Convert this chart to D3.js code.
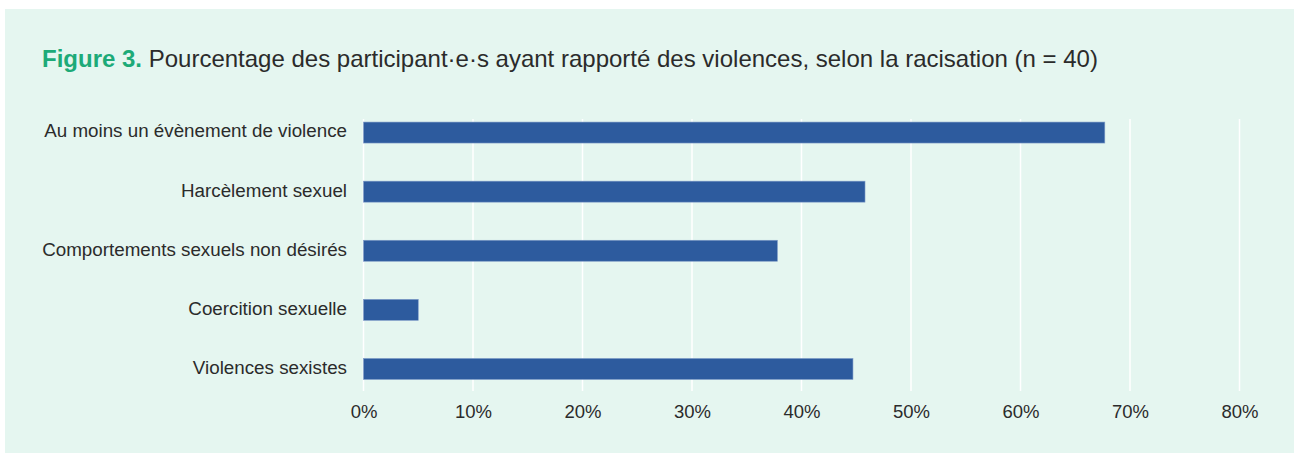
<!DOCTYPE html>
<html>
<head>
<meta charset="utf-8">
<script src="https://cdn.jsdelivr.net/npm/d3@7"></script>
<style>
  html, body { margin: 0; padding: 0; background: #ffffff; }
  svg { display: block; font-family: "Liberation Sans", Arial, Helvetica, sans-serif; }
</style>
</head>
<body>
<svg id="chart" width="1294" height="453"></svg>
<script>
// Share of racialised participants reporting each form of violence (%)
const categories = [
  "Au moins un évènement de violence",
  "Harcèlement sexuel",
  "Comportements sexuels non désirés",
  "Coercition sexuelle",
  "Violences sexistes"
];
const values = [67.7, 45.8, 37.8, 5.0, 44.7];
const tickValues = [0, 10, 20, 30, 40, 50, 60, 70, 80];
const titleLead = "Figure 3.";
const titleText = "Pourcentage des participant·e·s ayant rapporté des violences, selon la racisation (n = 40)";

const svg = d3.select("#chart");

// panel background
svg.append("rect")
  .attr("x", 5).attr("y", 9)
  .attr("width", 1289).attr("height", 444)
  .attr("fill", "#e5f6f0");

// title
const title = svg.append("text")
  .attr("x", 42).attr("y", 67)
  .attr("font-size", 24)
  .attr("fill", "#2b2b2b");
title.append("tspan").attr("font-weight", "bold").attr("fill", "#1daa78").text(titleLead);
title.append("tspan").text(" " + titleText);

const x = d3.scaleLinear().domain([0, 80]).range([363.5, 1239.5]);
const y = d3.scaleBand().domain(categories)
  .range([103, 398.5])
  .paddingInner(0.645).paddingOuter(0.3225);

// vertical gridlines
svg.append("g")
  .selectAll("line")
  .data(tickValues)
  .join("line")
  .attr("x1", d => x(d)).attr("x2", d => x(d))
  .attr("y1", 119).attr("y2", 391)
  .attr("stroke", "#ffffff")
  .attr("stroke-width", 1.5);

// x axis labels
const xAxis = d3.axisBottom(x)
  .tickValues(tickValues)
  .tickFormat(d => d + "%")
  .tickSize(0)
  .tickPadding(0);
const gx = svg.append("g").attr("transform", "translate(0,400)").call(xAxis);
gx.select(".domain").remove();
gx.selectAll("text")
  .attr("font-size", 18.5)
  .attr("fill", "#2b2b2b")
  .attr("font-family", "Liberation Sans, Arial, sans-serif")
  .attr("dy", "18.3px");

// category labels
const yAxis = d3.axisLeft(y).tickSize(0).tickPadding(0);
const gy = svg.append("g").attr("transform", "translate(347,0)").call(yAxis);
gy.select(".domain").remove();
gy.selectAll("text")
  .attr("font-size", 18.8)
  .attr("fill", "#2b2b2b")
  .attr("font-family", "Liberation Sans, Arial, sans-serif")
  .attr("dy", "4.9px");

// bars
svg.append("g")
  .selectAll("rect")
  .data(categories)
  .join("rect")
  .attr("x", x(0))
  .attr("y", d => y(d))
  .attr("width", (d, i) => x(values[i]) - x(0))
  .attr("height", y.bandwidth())
  .attr("fill", "#2d5b9e")
  .attr("stroke", "#7f9cc8")
  .attr("stroke-width", 0.6);
</script>
</body>
</html>
